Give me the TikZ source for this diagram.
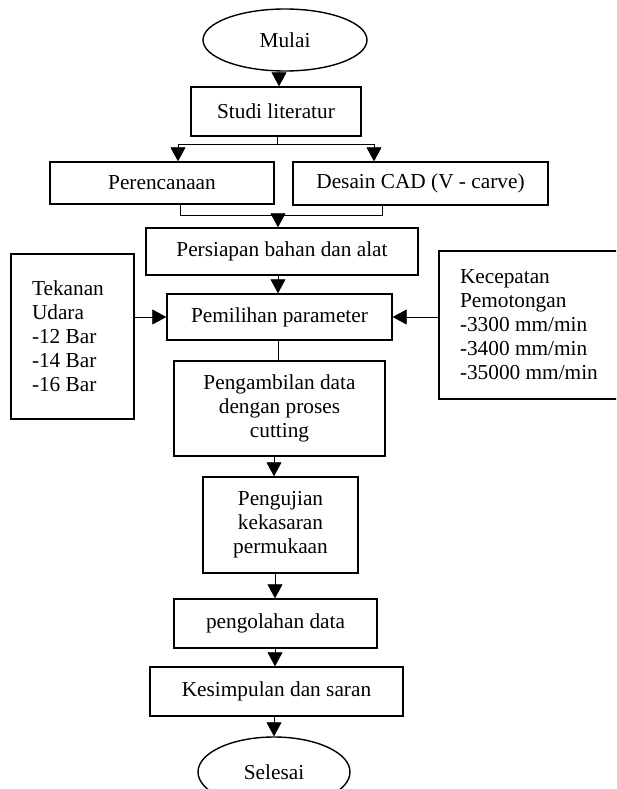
\documentclass[tikz,border=0pt]{standalone}
\usepackage{fontspec}
\setmainfont{Liberation Serif}
\usetikzlibrary{shapes.geometric,arrows.meta}
\tikzset{
  boxnode/.style={draw, line width=1.4pt, inner sep=0pt, align=center},
  ovalnode/.style={draw, ellipse, line width=1.4pt, inner sep=0pt},
  conn/.style={line width=0.8pt},
  arr/.style={line width=0.8pt, -{Triangle[length=14pt,width=15pt]}},
}
\begin{document}
\begin{tikzpicture}[x=1pt,y=-1pt,font=\fontsize{21.3}{24}\selectfont]
\useasboundingbox (0,0) rectangle (616,789);
\clip (0,0) rectangle (616,789);

\node[ovalnode, minimum width=164pt, minimum height=62pt] (mulai) at (285,40) {Mulai};
\node[boxnode, minimum width=170pt, minimum height=49pt] (studi) at (276,111.5) {Studi literatur};
\node[boxnode, minimum width=224pt, minimum height=42pt] (peren) at (162,183) {Perencanaan};
\node[boxnode, minimum width=255pt, minimum height=43pt] (desain) at (420.5,183.5) {Desain CAD (V - carve)};
\node[boxnode, minimum width=272pt, minimum height=47pt] (persiapan) at (282,251.5) {Persiapan bahan dan alat};
\node[boxnode, minimum width=123pt, minimum height=165pt, text width=81pt, align=flush left, inner xsep=21pt] (tekanan) at (72.5,336.5) {Tekanan\\Udara\\-12 Bar\\-14 Bar\\-16 Bar};
\node[boxnode, minimum width=225pt, minimum height=46pt] (pemilihan) at (279.5,317) {Pemilihan parameter};
\node[boxnode, minimum width=181pt, minimum height=148pt, text width=139pt, align=flush left, inner xsep=21pt] (kecepatan) at (529.5,325) {Kecepatan\\Pemotongan\\-3300\ mm/min\\-3400\ mm/min\\\mbox{-35000 mm/min}};
\node[boxnode, minimum width=211pt, minimum height=95pt] (pengambilan) at (279.5,408.5) {Pengambilan data\\dengan proses\\cutting};
\node[boxnode, minimum width=155pt, minimum height=96pt] (pengujian) at (280.5,525) {Pengujian\\kekasaran\\permukaan};
\node[boxnode, minimum width=203pt, minimum height=49pt] (pengolahan) at (275.5,623.5) {pengolahan data};
\node[boxnode, minimum width=253pt, minimum height=49pt] (kesimpulan) at (276.5,691.5) {Kesimpulan dan saran};
\node[ovalnode, minimum width=152pt, minimum height=70pt] (selesai) at (274,772) {Selesai};

% Mulai -> Studi
\draw[arr] ([xshift=-6pt]mulai.south) -- ([xshift=-6pt]mulai.south |- studi.north);

% Studi -> branch
\coordinate (bl) at (178,144);
\coordinate (br) at (374,144);
\draw[conn] ([xshift=1pt]studi.south) -- ([xshift=1pt]studi.south |- bl);
\draw[conn] (bl) -- (br);
\draw[arr] (bl) -- (bl |- peren.north);
\draw[arr] (br) -- (br |- desain.north);

% merge
\coordinate (ml) at (180,215);
\coordinate (mr) at (382,215);
\coordinate (mm) at (278,215);
\draw[conn] (ml |- peren.south) -- (ml) -- (mr) -- (mr |- desain.south);
\draw[arr] (mm) -- (mm |- persiapan.north);

% Persiapan -> Pemilihan
\draw[arr] ([xshift=-1.5pt]pemilihan.north |- persiapan.south) -- ([xshift=-1.5pt]pemilihan.north);

% side inputs
\draw[arr] (tekanan.east |- pemilihan.west) -- (pemilihan.west);
\draw[arr] (kecepatan.west |- pemilihan.east) -- (pemilihan.east);

% Pemilihan - Pengambilan (no arrow)
\draw[conn] ([xshift=-1.5pt]pemilihan.south) -- ([xshift=-1.5pt]pemilihan.south |- pengambilan.north);

% chain
\draw[arr] ([xshift=-5.5pt]pengambilan.south) -- ([xshift=-5.5pt]pengambilan.south |- pengujian.north);
\draw[arr] ([xshift=-5.5pt]pengujian.south) -- ([xshift=-5.5pt]pengujian.south |- pengolahan.north);
\draw[arr] ([xshift=-0.5pt]pengolahan.south) -- ([xshift=-0.5pt]pengolahan.south |- kesimpulan.north);
\draw[arr] (kesimpulan.south -| selesai.north) -- (selesai.north);
\end{tikzpicture}
\end{document}
